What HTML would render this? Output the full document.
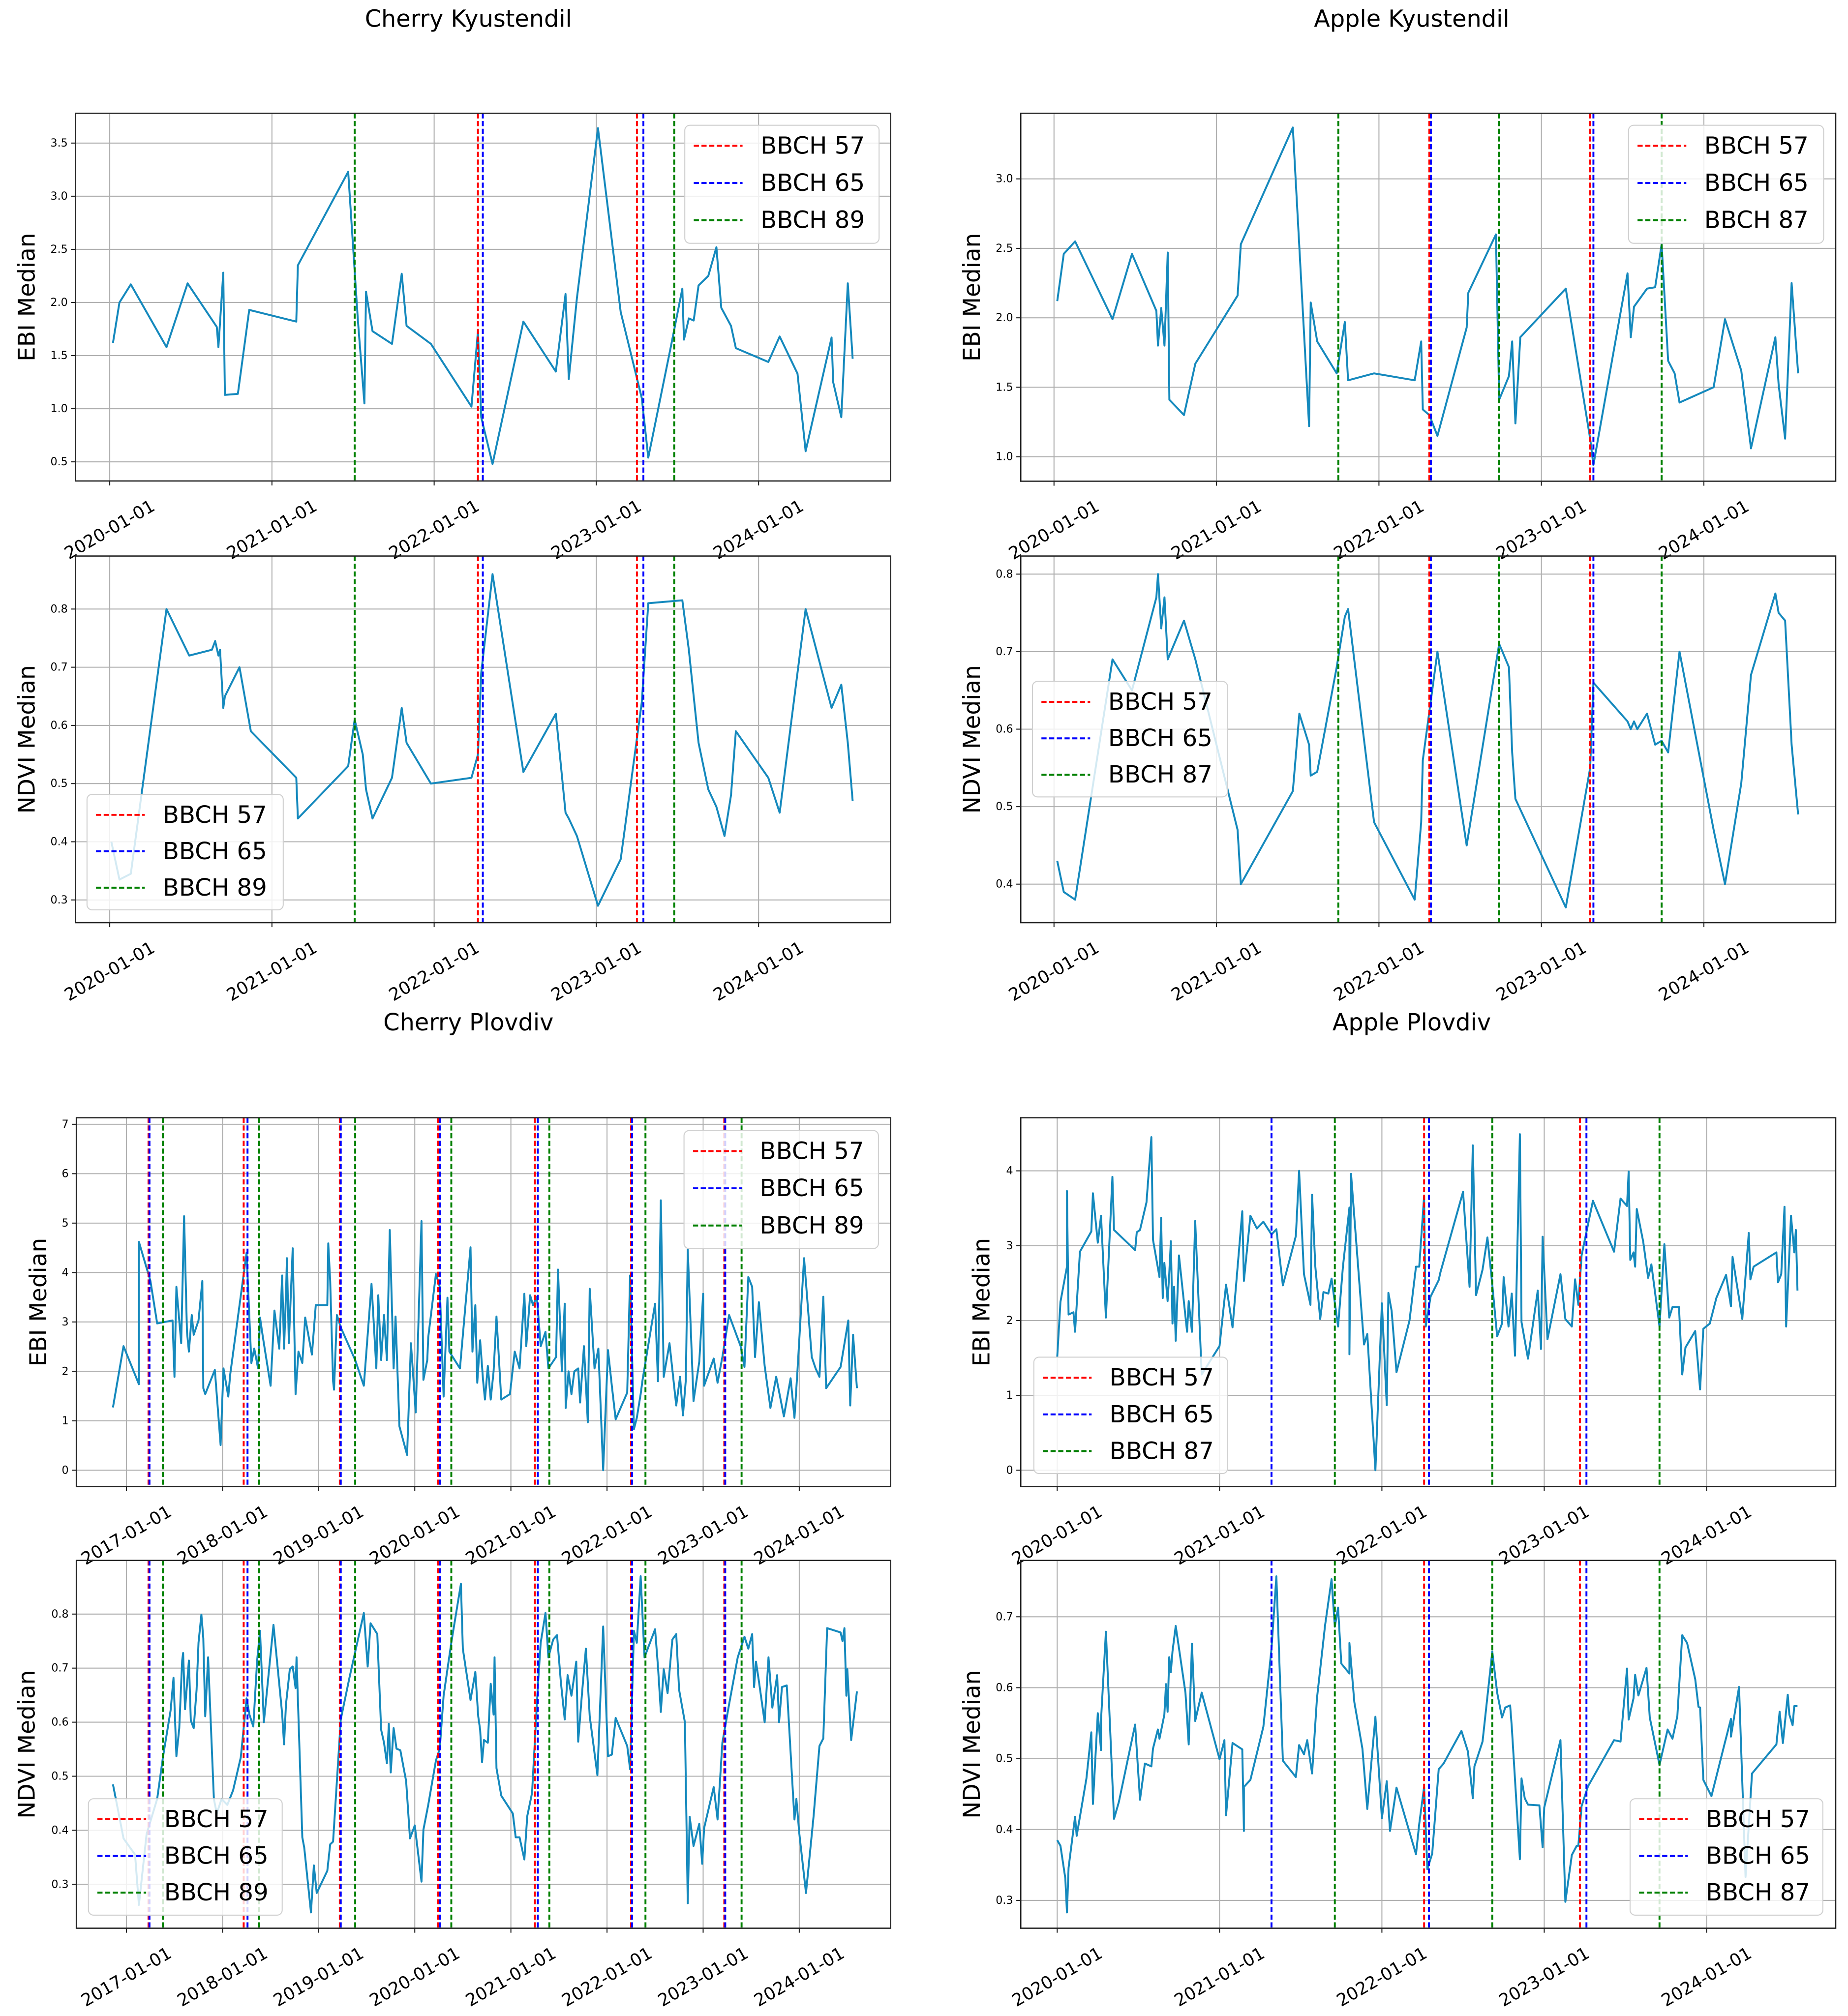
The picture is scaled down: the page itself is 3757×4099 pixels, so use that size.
<!DOCTYPE html>
<html>
<head>
<meta charset="utf-8">
<style>
html,body{margin:0;padding:0;background:#fff;}
svg{display:block;}
text{font-family:"DejaVu Sans","Liberation Sans",sans-serif;fill:#000;}
</style>
</head>
<body>
<svg id="fig" xmlns="http://www.w3.org/2000/svg" width="3757" height="4099" viewBox="0 0 1440 1571" preserveAspectRatio="none">
<rect x="0" y="0" width="1440" height="1571" fill="#fff"/>
<text x="365" y="15" font-size="18.3" text-anchor="middle" dominant-baseline="central">Cherry Kyustendil</text>
<text x="1100" y="15" font-size="18.3" text-anchor="middle" dominant-baseline="central">Apple Kyustendil</text>
<text x="365" y="797" font-size="18.3" text-anchor="middle" dominant-baseline="central">Cherry Plovdiv</text>
<text x="1100" y="797" font-size="18.3" text-anchor="middle" dominant-baseline="central">Apple Plovdiv</text>
</svg>
<script>
// ---------- DATA ----------
const xTickLabelsK = ['2020-01-01','2021-01-01','2022-01-01','2023-01-01','2024-01-01'];
const xTickLabelsCP = ['2017-01-01','2018-01-01','2019-01-01','2020-01-01','2021-01-01','2022-01-01','2023-01-01','2024-01-01'];

const yTicksTlEbi = ['0.5','1.0','1.5','2.0','2.5','3.0','3.5'];
const yTicksTlNdvi = ['0.3','0.4','0.5','0.6','0.7','0.8'];
const yTicksTrEbi = ['1.0','1.5','2.0','2.5','3.0'];
const yTicksTrNdvi = ['0.4','0.5','0.6','0.7','0.8'];
const yTicksBlEbi = ['0','1','2','3','4','5','6','7'];
const yTicksBlNdvi = ['0.3','0.4','0.5','0.6','0.7','0.8'];
const yTicksBrEbi = ['0','1','2','3','4'];
const yTicksBrNdvi = ['0.3','0.4','0.5','0.6','0.7'];

// Cherry Kyustendil
const ckEbiDates = [2020.02,2020.06,2020.13,2020.35,2020.48,2020.66,2020.67,2020.70,2020.71,2020.79,2020.86,2021.15,2021.16,2021.47,2021.53,2021.57,2021.58,2021.62,2021.74,2021.80,2021.83,2021.98,2022.23,2022.27,2022.29,2022.36,2022.55,2022.75,2022.81,2022.83,2022.88,2023.01,2023.15,2023.28,2023.32,2023.46,2023.53,2023.54,2023.57,2023.60,2023.63,2023.69,2023.74,2023.77,2023.83,2023.86,2024.06,2024.13,2024.24,2024.29,2024.45,2024.46,2024.51,2024.55,2024.58];
const ckEbiValues = [1.62,2.0,2.17,1.58,2.18,1.77,1.58,2.28,1.13,1.14,1.93,1.82,2.35,3.23,1.83,1.05,2.1,1.73,1.61,2.27,1.78,1.61,1.02,1.73,0.92,0.48,1.82,1.35,2.08,1.28,2.04,3.64,1.91,1.1,0.54,1.59,2.13,1.65,1.85,1.83,2.16,2.25,2.52,1.95,1.78,1.57,1.44,1.68,1.33,0.6,1.67,1.25,0.92,2.18,1.47];
const ckNdviDates = [2020.01,2020.06,2020.13,2020.35,2020.49,2020.63,2020.65,2020.67,2020.68,2020.70,2020.71,2020.80,2020.87,2021.15,2021.16,2021.47,2021.51,2021.56,2021.58,2021.62,2021.74,2021.80,2021.83,2021.98,2022.23,2022.27,2022.29,2022.36,2022.55,2022.75,2022.81,2022.83,2022.88,2023.01,2023.15,2023.28,2023.32,2023.53,2023.57,2023.63,2023.69,2023.74,2023.79,2023.83,2023.86,2024.06,2024.13,2024.29,2024.45,2024.51,2024.55,2024.58];
const ckNdviValues = [0.40,0.335,0.345,0.80,0.72,0.73,0.745,0.72,0.73,0.63,0.65,0.70,0.59,0.51,0.44,0.53,0.61,0.55,0.49,0.44,0.51,0.63,0.57,0.50,0.51,0.55,0.69,0.86,0.52,0.62,0.45,0.44,0.41,0.29,0.37,0.64,0.81,0.815,0.73,0.57,0.49,0.46,0.41,0.48,0.59,0.51,0.45,0.80,0.63,0.67,0.57,0.47];
const ckBbch57 = [2022.27,2023.25];
const ckBbch65 = [2022.30,2023.29];
const ckBbch89 = [2021.51,2023.48];

// Apple Kyustendil
const akEbiDates = [2020.02,2020.06,2020.13,2020.36,2020.48,2020.63,2020.64,2020.66,2020.68,2020.70,2020.71,2020.80,2020.87,2021.13,2021.15,2021.47,2021.57,2021.58,2021.62,2021.74,2021.79,2021.81,2021.97,2022.22,2022.26,2022.27,2022.31,2022.36,2022.54,2022.55,2022.72,2022.74,2022.80,2022.82,2022.84,2022.87,2023.15,2023.30,2023.32,2023.53,2023.55,2023.57,2023.65,2023.70,2023.74,2023.78,2023.82,2023.85,2024.06,2024.13,2024.23,2024.29,2024.44,2024.46,2024.50,2024.54,2024.58];
const akEbiValues = [2.12,2.46,2.55,1.99,2.46,2.05,1.80,2.07,1.80,2.47,1.41,1.30,1.67,2.16,2.53,3.37,1.22,2.11,1.83,1.60,1.97,1.55,1.60,1.55,1.83,1.34,1.30,1.15,1.93,2.18,2.60,1.41,1.58,1.83,1.24,1.86,2.21,1.13,0.94,2.32,1.86,2.08,2.21,2.22,2.53,1.69,1.60,1.39,1.50,1.99,1.62,1.06,1.86,1.52,1.13,2.25,1.60];
const akNdviDates = [2020.02,2020.06,2020.13,2020.36,2020.48,2020.63,2020.64,2020.66,2020.68,2020.70,2020.80,2020.87,2021.13,2021.15,2021.47,2021.51,2021.57,2021.58,2021.62,2021.74,2021.79,2021.81,2021.97,2022.22,2022.26,2022.27,2022.36,2022.54,2022.74,2022.80,2022.82,2022.84,2023.15,2023.30,2023.32,2023.53,2023.55,2023.57,2023.59,2023.65,2023.70,2023.74,2023.78,2023.85,2024.06,2024.13,2024.23,2024.29,2024.44,2024.46,2024.50,2024.54,2024.58];
const akNdviValues = [0.43,0.39,0.38,0.69,0.65,0.77,0.80,0.73,0.77,0.69,0.74,0.69,0.47,0.40,0.52,0.62,0.58,0.54,0.545,0.68,0.745,0.755,0.48,0.38,0.48,0.56,0.70,0.45,0.71,0.68,0.57,0.51,0.37,0.55,0.66,0.61,0.60,0.61,0.60,0.62,0.58,0.585,0.57,0.70,0.47,0.40,0.53,0.67,0.775,0.75,0.74,0.58,0.49];
const akBbch57 = [2022.31,2023.30];
const akBbch65 = [2022.32,2023.32];
const akBbch87 = [2021.75,2022.74,2023.74];

// Cherry Plovdiv
const cpEbiDates = [2016.86,2016.97,2017.13,2017.13,2017.25,2017.32,2017.48,2017.50,2017.52,2017.57,2017.60,2017.63,2017.65,2017.68,2017.70,2017.75,2017.79,2017.80,2017.82,2017.92,2017.98,2018.01,2018.06,2018.08,2018.25,2018.30,2018.33,2018.37,2018.39,2018.42,2018.50,2018.54,2018.59,2018.62,2018.64,2018.66,2018.67,2018.69,2018.73,2018.76,2018.79,2018.83,2018.86,2018.93,2018.97,2019.09,2019.10,2019.12,2019.15,2019.16,2019.19,2019.23,2019.38,2019.47,2019.55,2019.60,2019.62,2019.65,2019.68,2019.71,2019.74,2019.78,2019.80,2019.84,2019.92,2019.96,2020.01,2020.07,2020.09,2020.13,2020.14,2020.22,2020.26,2020.30,2020.34,2020.36,2020.47,2020.58,2020.60,2020.63,2020.65,2020.68,2020.71,2020.73,2020.76,2020.79,2020.82,2020.85,2020.90,2020.99,2021.04,2021.09,2021.14,2021.16,2021.20,2021.23,2021.27,2021.31,2021.36,2021.39,2021.47,2021.49,2021.53,2021.56,2021.57,2021.60,2021.63,2021.66,2021.70,2021.72,2021.76,2021.80,2021.82,2021.87,2021.91,2021.96,2022.01,2022.05,2022.09,2022.21,2022.24,2022.28,2022.31,2022.35,2022.37,2022.50,2022.53,2022.56,2022.59,2022.65,2022.72,2022.76,2022.79,2022.82,2022.84,2022.90,2022.96,2023.00,2023.01,2023.11,2023.15,2023.20,2023.27,2023.39,2023.43,2023.47,2023.51,2023.54,2023.58,2023.64,2023.70,2023.76,2023.84,2023.91,2023.95,2023.98,2024.05,2024.13,2024.17,2024.21,2024.25,2024.28,2024.43,2024.51,2024.53,2024.56,2024.60];
const cpEbiValues = [1.27,2.51,1.74,4.62,3.83,2.97,3.03,1.89,3.71,2.57,5.14,2.8,2.4,3.14,2.74,3.03,3.83,1.66,1.54,2.03,0.51,2.06,1.49,1.94,4.4,2.17,2.46,2.06,3.09,2.69,1.71,3.23,2.46,3.94,2.46,3.54,4.29,2.57,4.49,1.54,2.4,2.17,3.09,2.34,3.34,3.34,4.59,3.83,1.8,1.63,3.14,2.89,2.23,1.71,3.77,2.06,3.54,2.23,3.14,2.23,4.86,2.06,3.11,0.89,0.31,2.57,1.17,5.04,1.83,2.23,2.69,3.97,3.71,1.49,3.49,2.4,2.06,4.51,2.4,3.34,1.77,2.63,1.83,1.43,2.11,1.43,2.0,3.11,1.43,1.54,2.4,2.06,3.57,2.51,3.54,3.34,3.51,2.51,2.8,2.06,2.29,4.06,2.0,3.37,1.26,2.0,1.54,2.0,2.06,1.37,2.51,0.97,3.67,2.06,2.46,0.0,2.43,1.71,1.03,1.57,3.94,0.83,1.06,1.54,1.83,3.37,1.8,5.46,1.89,2.57,1.31,1.89,1.11,1.83,4.46,1.4,2.2,3.57,1.71,2.26,1.77,2.29,3.14,2.51,2.09,3.91,3.71,2.29,3.4,2.11,1.26,1.89,1.09,1.86,1.06,1.97,4.29,2.29,2.06,1.89,3.51,1.66,2.09,3.03,1.31,2.74,1.66];
const cpNdviDates = [2016.86,2016.89,2016.97,2017.09,2017.13,2017.21,2017.32,2017.38,2017.46,2017.49,2017.52,2017.55,2017.58,2017.59,2017.61,2017.65,2017.67,2017.70,2017.73,2017.75,2017.78,2017.80,2017.82,2017.85,2017.91,2017.94,2017.99,2018.05,2018.11,2018.19,2018.25,2018.28,2018.32,2018.36,2018.39,2018.43,2018.53,2018.59,2018.62,2018.64,2018.66,2018.70,2018.73,2018.76,2018.77,2018.83,2018.85,2018.92,2018.95,2018.98,2019.09,2019.12,2019.15,2019.23,2019.32,2019.47,2019.51,2019.54,2019.61,2019.65,2019.68,2019.71,2019.73,2019.75,2019.78,2019.81,2019.85,2019.91,2019.95,2020.00,2020.07,2020.09,2020.14,2020.22,2020.26,2020.30,2020.38,2020.48,2020.50,2020.58,2020.63,2020.66,2020.68,2020.70,2020.72,2020.76,2020.79,2020.82,2020.83,2020.85,2020.90,2021.02,2021.05,2021.09,2021.14,2021.17,2021.22,2021.28,2021.31,2021.36,2021.39,2021.44,2021.48,2021.52,2021.56,2021.59,2021.63,2021.68,2021.70,2021.74,2021.78,2021.82,2021.90,2021.96,2022.01,2022.05,2022.09,2022.21,2022.24,2022.28,2022.31,2022.35,2022.39,2022.50,2022.53,2022.56,2022.59,2022.63,2022.68,2022.72,2022.75,2022.81,2022.84,2022.86,2022.90,2022.96,2022.99,2023.01,2023.11,2023.15,2023.20,2023.27,2023.36,2023.43,2023.47,2023.51,2023.53,2023.55,2023.58,2023.64,2023.68,2023.72,2023.77,2023.79,2023.82,2023.87,2023.95,2023.97,2024.00,2024.07,2024.15,2024.21,2024.25,2024.29,2024.43,2024.45,2024.47,2024.49,2024.50,2024.54,2024.60];
const cpNdviValues = [0.485,0.458,0.385,0.355,0.262,0.393,0.458,0.535,0.622,0.682,0.537,0.589,0.714,0.728,0.624,0.714,0.603,0.589,0.66,0.747,0.799,0.755,0.611,0.72,0.458,0.431,0.458,0.447,0.474,0.535,0.644,0.614,0.592,0.714,0.769,0.6,0.78,0.671,0.616,0.559,0.633,0.698,0.703,0.663,0.72,0.387,0.368,0.248,0.335,0.284,0.325,0.374,0.379,0.605,0.682,0.802,0.703,0.783,0.763,0.586,0.562,0.524,0.597,0.507,0.589,0.551,0.548,0.491,0.385,0.409,0.305,0.401,0.447,0.529,0.551,0.649,0.747,0.856,0.736,0.641,0.693,0.611,0.586,0.526,0.567,0.562,0.671,0.614,0.72,0.515,0.464,0.431,0.387,0.387,0.346,0.426,0.469,0.665,0.747,0.802,0.72,0.753,0.761,0.674,0.605,0.687,0.649,0.712,0.564,0.654,0.736,0.611,0.502,0.777,0.537,0.54,0.608,0.556,0.513,0.769,0.747,0.87,0.72,0.772,0.703,0.619,0.698,0.654,0.753,0.763,0.66,0.6,0.265,0.425,0.371,0.412,0.338,0.404,0.48,0.42,0.562,0.633,0.72,0.758,0.736,0.763,0.665,0.712,0.676,0.6,0.72,0.627,0.687,0.6,0.665,0.668,0.42,0.458,0.395,0.284,0.428,0.556,0.57,0.774,0.766,0.75,0.774,0.649,0.698,0.567,0.657];
const cpBbch57 = [2017.23,2018.22,2019.22,2020.24,2021.25,2022.25,2023.22];
const cpBbch65 = [2017.24,2018.26,2019.23,2020.26,2021.28,2022.26,2023.23];
const cpBbch89 = [2017.38,2018.38,2019.38,2020.38,2021.40,2022.40,2023.40];

// Apple Plovdiv
const apEbiDates = [2020.00,2020.02,2020.06,2020.06,2020.07,2020.10,2020.11,2020.14,2020.21,2020.22,2020.25,2020.27,2020.30,2020.34,2020.35,2020.48,2020.49,2020.51,2020.55,2020.58,2020.59,2020.63,2020.64,2020.65,2020.66,2020.68,2020.69,2020.70,2020.71,2020.72,2020.73,2020.75,2020.80,2020.81,2020.83,2020.85,2020.89,2021.00,2021.04,2021.08,2021.14,2021.15,2021.19,2021.23,2021.27,2021.32,2021.35,2021.39,2021.47,2021.49,2021.52,2021.56,2021.57,2021.59,2021.62,2021.64,2021.67,2021.69,2021.73,2021.76,2021.80,2021.80,2021.81,2021.89,2021.91,2021.96,2022.00,2022.03,2022.04,2022.06,2022.09,2022.17,2022.21,2022.23,2022.26,2022.27,2022.30,2022.35,2022.36,2022.50,2022.54,2022.56,2022.58,2022.62,2022.65,2022.68,2022.71,2022.74,2022.75,2022.78,2022.80,2022.82,2022.85,2022.86,2022.90,2022.96,2022.98,2022.99,2023.02,2023.10,2023.13,2023.17,2023.19,2023.21,2023.23,2023.30,2023.43,2023.47,2023.51,2023.52,2023.53,2023.55,2023.56,2023.57,2023.61,2023.64,2023.66,2023.71,2023.74,2023.77,2023.79,2023.83,2023.85,2023.87,2023.93,2023.96,2023.98,2024.02,2024.06,2024.12,2024.15,2024.16,2024.22,2024.26,2024.27,2024.29,2024.43,2024.44,2024.46,2024.48,2024.49,2024.52,2024.54,2024.55,2024.56];
const apEbiValues = [1.51,2.25,2.72,3.73,2.08,2.11,1.85,2.92,3.19,3.7,3.04,3.4,2.04,3.92,3.21,2.94,3.18,3.21,3.58,4.45,3.08,2.58,3.37,2.3,2.77,2.26,2.62,3.06,1.96,2.45,1.73,2.87,1.85,2.26,1.85,3.33,1.28,1.66,2.48,1.91,3.46,2.53,3.4,3.23,3.32,3.15,3.22,2.47,3.13,4.0,2.62,2.21,3.68,2.72,2.02,2.38,2.36,2.56,1.92,2.72,3.51,1.55,3.96,1.68,1.82,0.0,2.23,0.87,2.37,2.13,1.31,2.0,2.72,2.72,3.66,1.92,2.32,2.54,2.64,3.72,2.45,4.34,2.34,2.68,3.11,2.48,1.79,1.96,2.58,1.92,2.36,1.53,4.49,1.98,1.49,2.4,1.62,3.12,1.75,2.62,2.02,1.92,2.55,2.21,2.87,3.6,2.92,3.63,3.53,3.99,2.81,2.91,2.72,3.49,3.05,2.57,2.75,1.92,3.02,2.04,2.18,2.18,1.28,1.64,1.86,1.08,1.89,1.96,2.3,2.61,2.19,2.85,2.02,3.17,2.55,2.72,2.91,2.51,2.62,3.52,1.92,3.4,2.91,3.21,2.4];
const apNdviDates = [2020.00,2020.02,2020.05,2020.06,2020.07,2020.11,2020.12,2020.18,2020.21,2020.22,2020.25,2020.27,2020.27,2020.30,2020.35,2020.38,2020.48,2020.51,2020.54,2020.58,2020.59,2020.62,2020.63,2020.66,2020.67,2020.68,2020.69,2020.70,2020.71,2020.73,2020.79,2020.81,2020.83,2020.85,2020.89,2021.00,2021.03,2021.04,2021.08,2021.14,2021.15,2021.15,2021.19,2021.27,2021.32,2021.35,2021.39,2021.47,2021.49,2021.52,2021.54,2021.57,2021.60,2021.65,2021.69,2021.71,2021.73,2021.75,2021.80,2021.80,2021.83,2021.88,2021.91,2021.96,2022.00,2022.03,2022.05,2022.09,2022.21,2022.23,2022.26,2022.28,2022.31,2022.35,2022.38,2022.49,2022.53,2022.56,2022.57,2022.62,2022.68,2022.71,2022.74,2022.76,2022.79,2022.80,2022.85,2022.86,2022.88,2022.90,2022.97,2022.99,2023.00,2023.10,2023.13,2023.17,2023.20,2023.21,2023.23,2023.27,2023.43,2023.47,2023.51,2023.52,2023.55,2023.56,2023.58,2023.63,2023.65,2023.71,2023.76,2023.79,2023.82,2023.85,2023.88,2023.93,2023.95,2023.96,2023.98,2024.03,2024.11,2024.15,2024.15,2024.20,2024.24,2024.28,2024.43,2024.45,2024.47,2024.50,2024.51,2024.53,2024.54,2024.56];
const apNdviValues = [0.385,0.377,0.331,0.283,0.346,0.418,0.391,0.472,0.537,0.436,0.564,0.512,0.555,0.679,0.415,0.439,0.548,0.442,0.493,0.489,0.514,0.541,0.528,0.562,0.605,0.566,0.643,0.622,0.651,0.687,0.593,0.52,0.662,0.553,0.593,0.499,0.526,0.42,0.522,0.513,0.398,0.46,0.47,0.545,0.655,0.757,0.497,0.474,0.519,0.506,0.526,0.479,0.585,0.688,0.753,0.686,0.713,0.634,0.62,0.663,0.58,0.514,0.429,0.559,0.416,0.468,0.398,0.459,0.365,0.408,0.46,0.344,0.366,0.485,0.493,0.539,0.51,0.444,0.489,0.524,0.651,0.593,0.558,0.572,0.575,0.545,0.358,0.472,0.444,0.435,0.434,0.375,0.431,0.526,0.298,0.364,0.377,0.377,0.433,0.461,0.526,0.524,0.627,0.555,0.585,0.618,0.589,0.628,0.558,0.491,0.541,0.528,0.56,0.674,0.663,0.612,0.573,0.572,0.47,0.447,0.52,0.556,0.531,0.601,0.333,0.479,0.52,0.566,0.522,0.59,0.562,0.547,0.574,0.574];
const apBbch57 = [2022.26,2023.22];
const apBbch65 = [2021.32,2022.29,2023.26];
const apBbch87 = [2021.71,2022.68,2023.71];

// ---------- RENDER ----------
const NS = 'http://www.w3.org/2000/svg';
const svg = document.getElementById('fig');
function mk(tag, attrs, parent) {
  const e = document.createElementNS(NS, tag);
  for (const k in attrs) e.setAttribute(k, attrs[k]);
  (parent || svg).appendChild(e);
  return e;
}
const SERIES_COLOR = '#1589bd';

function drawPanel(p) {
  const g = mk('g', {});
  
  
  const [L, T, R, B] = p.frame;
  const xs = v => p.x0px + (v - p.x0) * p.pxPerYear;
  const ys = v => p.yPx0 + (v - p.yVal0) * (p.yPx1 - p.yPx0) / (p.yVal1 - p.yVal0);
  const clip = mk('clipPath', {id: 'clip-' + p.name}, g);
  mk('rect', {x: L, y: T, width: R - L, height: B - T}, clip);

  const grid = mk('g', {stroke: '#b0b0b0', 'stroke-width': 0.8, 'clip-path': 'url(#clip-' + p.name + ')'}, g);
  
  
  p.xTicks.forEach(lbl => {
    const yr = parseInt(lbl.slice(0, 4));
    const x = xs(yr);
    const gl = mk('line', {x1: x, x2: x, y1: T, y2: B}, grid);
    
    
  });
  p.yTicks.forEach(lbl => {
    const y = ys(parseFloat(lbl));
    const gl = mk('line', {x1: L, x2: R, y1: y, y2: y}, grid);
    
    
  });

  const pts = p.dates.map((d, i) => xs(d).toFixed(2) + ',' + ys(p.values[i]).toFixed(2)).join(' ');
  const line = mk('polyline', {points: pts, fill: 'none', stroke: SERIES_COLOR, 'stroke-width': 1.5, 'stroke-linejoin': 'round', 'clip-path': 'url(#clip-' + p.name + ')'}, g);
  
  

  const vsets = [[p.b57, '#ff0000', 'bbch-57-line'], [p.b65, '#0000ff', 'bbch-65-line'], [p.bLast, '#008000', 'bbch-' + p.lastCode + '-line']];
  vsets.forEach(([arr, col, nm]) => {
    arr.forEach(d => {
      const x = xs(d);
      const vl = mk('line', {x1: x, x2: x, y1: T, y2: B, stroke: col, 'stroke-width': 1.5, 'stroke-dasharray': '4 2'}, g);
      
      
    });
  });

  const fr = mk('rect', {x: L, y: T, width: R - L, height: B - T, fill: 'none', stroke: '#222', 'stroke-width': 1}, g);
  
  

  p.xTicks.forEach(lbl => {
    const x = xs(parseInt(lbl.slice(0, 4)));
    const tk = mk('line', {x1: x, x2: x, y1: B, y2: B + 3.5, stroke: '#222', 'stroke-width': 0.8}, g);
    
    
    const cy = B + 38;
    const t = mk('text', {x: x, y: cy, 'font-size': 13.5, 'text-anchor': 'middle', 'dominant-baseline': 'central', transform: 'rotate(-30 ' + x + ' ' + cy + ')'}, g);
    t.textContent = lbl;
    
    
  });
  p.yTicks.forEach(lbl => {
    const y = ys(parseFloat(lbl));
    const tk = mk('line', {x1: L - 3.5, x2: L, y1: y, y2: y, stroke: '#222', 'stroke-width': 0.8}, g);
    
    
    const t = mk('text', {x: L - 6, y: y, 'font-size': 8.5, 'text-anchor': 'end', 'dominant-baseline': 'central'}, g);
    t.textContent = lbl;
    
    
  });
  const cyl = (T + B) / 2;
  const yl = mk('text', {x: p.ylabelX, y: cyl, 'font-size': 18, 'text-anchor': 'middle', 'dominant-baseline': 'central', transform: 'rotate(-90 ' + p.ylabelX + ' ' + cyl + ')'}, g);
  yl.textContent = p.ylabel;
  
  

  const [lx, ly, lw, lh] = p.legend;
  const lg = mk('g', {}, g);
  
  
  const lb = mk('rect', {x: lx, y: ly, width: lw, height: lh, rx: 4, fill: '#fff', 'fill-opacity': 0.82, stroke: '#d0d0d0', 'stroke-width': 0.8}, lg);
  
  
  const entries = [['BBCH 57', '#ff0000'], ['BBCH 65', '#0000ff'], ['BBCH ' + p.lastCode, '#008000']];
  entries.forEach(([txt, col], i) => {
    const ry = ly + 16 + i * 29 * (lh / 92);
    const ent = mk('g', {}, lg);
    
    
    mk('line', {x1: lx + 7, x2: lx + 45, y1: ry, y2: ry, stroke: col, 'stroke-width': 1.5, 'stroke-dasharray': '4 2'}, ent);
    const t = mk('text', {x: lx + 59, y: ry, 'font-size': 18.5, 'dominant-baseline': 'central'}, ent);
    t.textContent = txt;
    
    
  });
}

const panels = [
  {name:'cherry-kyustendil-ebi-chart', frame:[58.8,88.3,694,374.8], x0:2020, x0px:85.5, pxPerYear:126.4, xTicks:xTickLabelsK, yTicks:yTicksTlEbi, yVal0:0.5, yPx0:359.9, yVal1:3.5, yPx1:111.5, dates:ckEbiDates, values:ckEbiValues, b57:ckBbch57, b65:ckBbch65, bLast:ckBbch89, lastCode:'89', legend:[533.6,97.6,151.4,92], ylabel:'EBI Median', ylabelX:21},
  {name:'cherry-kyustendil-ndvi-chart', frame:[58.8,433.3,694,719], x0:2020, x0px:85.5, pxPerYear:126.4, xTicks:xTickLabelsK, yTicks:yTicksTlNdvi, yVal0:0.3, yPx0:701.3, yVal1:0.8, yPx1:474.6, dates:ckNdviDates, values:ckNdviValues, b57:ckBbch57, b65:ckBbch65, bLast:ckBbch89, lastCode:'89', legend:[67.8,619,152.9,90], ylabel:'NDVI Median', ylabelX:21},
  {name:'apple-kyustendil-ebi-chart', frame:[795.4,88.3,1430.4,375], x0:2020, x0px:821.3, pxPerYear:126.6, xTicks:xTickLabelsK, yTicks:yTicksTrEbi, yVal0:1.0, yPx0:355.9, yVal1:3.0, yPx1:139.4, dates:akEbiDates, values:akEbiValues, b57:akBbch57, b65:akBbch65, bLast:akBbch87, lastCode:'87', legend:[1269,97.6,152,92], ylabel:'EBI Median', ylabelX:757.5},
  {name:'apple-kyustendil-ndvi-chart', frame:[795.4,433.3,1430.4,719], x0:2020, x0px:821.3, pxPerYear:126.6, xTicks:xTickLabelsK, yTicks:yTicksTrNdvi, yVal0:0.4, yPx0:689, yVal1:0.8, yPx1:447.4, dates:akNdviDates, values:akNdviValues, b57:akBbch57, b65:akBbch65, bLast:akBbch87, lastCode:'87', legend:[804.5,531,152,90], ylabel:'NDVI Median', ylabelX:757.5},
  {name:'cherry-plovdiv-ebi-chart', frame:[59.5,871,694,1158.4], x0:2017, x0px:98.5, pxPerYear:74.9, xTicks:xTickLabelsCP, yTicks:yTicksBlEbi, yVal0:0, yPx0:1145.7, yVal1:7, yPx1:876.1, dates:cpEbiDates, values:cpEbiValues, b57:cpBbch57, b65:cpBbch65, bLast:cpBbch89, lastCode:'89', legend:[533,881,151.5,92], ylabel:'EBI Median', ylabelX:30},
  {name:'cherry-plovdiv-ndvi-chart', frame:[59.5,1216,694,1502.6], x0:2017, x0px:98.5, pxPerYear:74.9, xTicks:xTickLabelsCP, yTicks:yTicksBlNdvi, yVal0:0.3, yPx0:1468.4, yVal1:0.8, yPx1:1257.8, dates:cpNdviDates, values:cpNdviValues, b57:cpBbch57, b65:cpBbch65, bLast:cpBbch89, lastCode:'89', legend:[68.9,1401.7,151,90.7], ylabel:'NDVI Median', ylabelX:21},
  {name:'apple-plovdiv-ebi-chart', frame:[795.4,871,1430.4,1158.4], x0:2020, x0px:823.8, pxPerYear:126.5, xTicks:xTickLabelsK, yTicks:yTicksBrEbi, yVal0:0, yPx0:1145.7, yVal1:4, yPx1:912.4, dates:apEbiDates, values:apEbiValues, b57:apBbch57, b65:apBbch65, bLast:apBbch87, lastCode:'87', legend:[805.6,1057.6,151,90.7], ylabel:'EBI Median', ylabelX:765},
  {name:'apple-plovdiv-ndvi-chart', frame:[795.4,1216,1430.4,1502.6], x0:2020, x0px:823.8, pxPerYear:126.5, xTicks:xTickLabelsK, yTicks:yTicksBrNdvi, yVal0:0.3, yPx0:1480.9, yVal1:0.7, yPx1:1259.9, dates:apNdviDates, values:apNdviValues, b57:apBbch57, b65:apBbch65, bLast:apBbch87, lastCode:'87', legend:[1270.2,1401.7,150.2,90.7], ylabel:'NDVI Median', ylabelX:757.5}
];
panels.forEach(drawPanel);
</script>
</body>
</html>
